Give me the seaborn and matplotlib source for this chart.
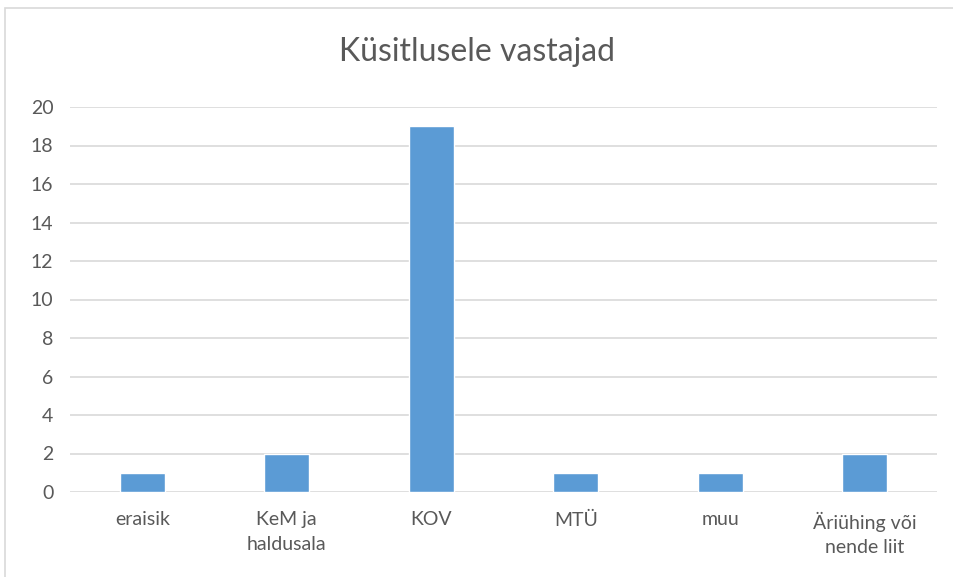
import matplotlib
matplotlib.use("Agg")
import matplotlib.pyplot as plt
import matplotlib.patches as mpatches
import seaborn as sns
import pandas as pd

categories = ["eraisik", "KeM ja\nhaldusala", "KOV", "MTÜ", "muu", "Äriühing või\nnende liit"]
counts = [1, 2, 19, 1, 1, 2]
yticks = [0, 2, 4, 6, 8, 10, 12, 14, 16, 18, 20]

df = pd.DataFrame({"kategooria": categories, "arv": counts})

sns.set_style("white")
plt.rcParams["font.family"] = ["Lato", "DejaVu Sans"]

fig = plt.figure(figsize=(9.54, 5.77), dpi=100)
ax = fig.add_axes([70 / 954, 1 - 492 / 577, 867 / 954, 385 / 577])

sns.barplot(data=df, x="kategooria", y="arv", color="#5b9bd5", width=0.31,
            saturation=1, ax=ax, zorder=3)

ax.set_ylim(0, 20)
ax.set_yticks(yticks)
ax.yaxis.grid(True, color="#d9d9d9", linewidth=1.2, zorder=0)
ax.set_axisbelow(True)
for s in ax.spines.values():
    s.set_visible(False)
ax.set_xlabel("")
ax.set_ylabel("")
ax.tick_params(axis="both", length=0, labelsize=14, labelcolor="#595959")
ax.tick_params(axis="y", pad=12)
ax.tick_params(axis="x", pad=14)
for lbl in ax.get_xticklabels():
    lbl.set_linespacing(1.55)

fig.text(0.5, 1 - 52 / 577, "Küsitlusele vastajad", ha="center", va="center",
         fontsize=23, color="#595959")

# outer chart frame
fig.patches.append(mpatches.Rectangle((5 / 954, -0.01), 1.0, 1 - 8 / 577 + 0.01,
                                      transform=fig.transFigure, fill=False,
                                      edgecolor="#d9d9d9", linewidth=1.2))

fig.savefig("out.png", dpi=100)
